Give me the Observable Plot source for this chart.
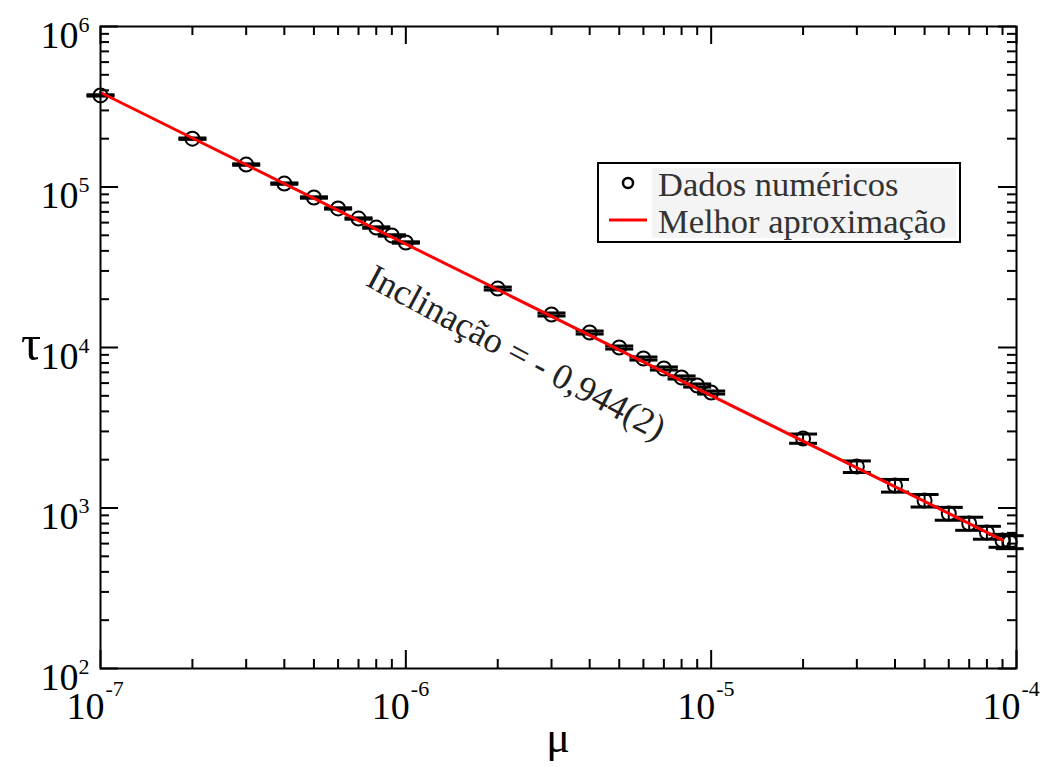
<!DOCTYPE html>
<html><head><meta charset="utf-8">
<script src="https://cdn.jsdelivr.net/npm/d3@7"></script>
<script src="https://cdn.jsdelivr.net/npm/@observablehq/plot@0.6"></script>
<style>
body{margin:0;background:#fff;}
#chart{width:1053px;height:767px;}
svg{display:block;}
</style></head><body><div id="chart"></div>
<script>
// ---- data ----
const mu = [1e-7,2e-7,3e-7,4e-7,5e-7,6e-7,7e-7,8e-7,9e-7,1e-6,
            2e-6,3e-6,4e-6,5e-6,6e-6,7e-6,8e-6,9e-6,1e-5,
            2e-5,3e-5,4e-5,5e-5,6e-5,7e-5,8e-5,9e-5,9.5e-5];
const tau = [372000,200000,138000,105000,86000,73500,63600,55900,49900,45100,
             23300,16060,12400,10000,8540,7400,6505,5797,5243,
             2710,1814,1381,1114,924,801,704,627,615];
const tauErr = [3500,2000,1400,1000,850,700,600,550,500,450,
                500,350,270,220,190,165,145,130,115,
                180,150,125,100,85,75,65,58,57];
const fitMu = [1e-7, 9e-5];
const fitTau = [388000, 631];
const xMajor = [1e-7,1e-6,1e-5,1e-4];
const xMajorExp = ["-7","-6","-5","-4"];
const xMinor = [2e-7,3e-7,4e-7,5e-7,6e-7,7e-7,8e-7,9e-7,
                2e-6,3e-6,4e-6,5e-6,6e-6,7e-6,8e-6,9e-6,
                2e-5,3e-5,4e-5,5e-5,6e-5,7e-5,8e-5,9e-5];
const yMajor = [1e2,1e3,1e4,1e5,1e6];
const yMajorExp = ["2","3","4","5","6"];
const yMinor = [2e2,3e2,4e2,5e2,6e2,7e2,8e2,9e2,
                2e3,3e3,4e3,5e3,6e3,7e3,8e3,9e3,
                2e4,3e4,4e4,5e4,6e4,7e4,8e4,9e4,
                2e5,3e5,4e5,5e5,6e5,7e5,8e5,9e5];
const slopeLabel = "Inclinação = - 0,944(2)";
const slopeLabelMu = [2.3e-6];
const slopeLabelTau = [9300];
const legendLabels = ["Dados numéricos", "Melhor aproximação"];
const xLabel = "μ";
const yLabel = "τ";

// ---- tables ----
const pts = mu.map((m, i) => ({mu: m, tau: tau[i], err: tauErr[i]}));
const fit = fitMu.map((m, i) => ({mu: m, tau: fitTau[i]}));
const ann = slopeLabelMu.map((m, i) => ({mu: m, tau: slopeLabelTau[i], text: slopeLabel}));

const W = 1053, H = 767;
const M = {top: 26, right: 37, bottom: 99, left: 100};
const iw = W - M.left - M.right, ih = H - M.top - M.bottom;
const MAJ = 18, MIN = 9;
const serif = "'Liberation Serif', 'Times New Roman', serif";

const capSymbol = {
  draw(ctx, size) {
    const r = Math.sqrt(size / Math.PI);
    ctx.moveTo(-r, 0); ctx.lineTo(r, 0);
  }
};

const plot = Plot.plot({
  width: W, height: H,
  marginTop: M.top, marginRight: M.right, marginBottom: M.bottom, marginLeft: M.left,
  style: {fontFamily: serif, background: "#fff"},
  x: {type: "log", domain: [1e-7, 1e-4], axis: null},
  y: {type: "log", domain: [1e2, 1e6], axis: null},
  marks: [
    // ticks (inside, mirrored)
    Plot.tickX(xMajor, {x: d => d, insetTop: ih - MAJ, stroke: "#000", strokeWidth: 2}),
    Plot.tickX(xMajor, {x: d => d, insetBottom: ih - MAJ, stroke: "#000", strokeWidth: 2}),
    Plot.tickX(xMinor, {x: d => d, insetTop: ih - MIN, stroke: "#000", strokeWidth: 2}),
    Plot.tickX(xMinor, {x: d => d, insetBottom: ih - MIN, stroke: "#000", strokeWidth: 2}),
    Plot.tickY(yMajor, {y: d => d, insetRight: iw - MAJ, stroke: "#000", strokeWidth: 2}),
    Plot.tickY(yMajor, {y: d => d, insetLeft: iw - MAJ, stroke: "#000", strokeWidth: 2}),
    Plot.tickY(yMinor, {y: d => d, insetRight: iw - MIN, stroke: "#000", strokeWidth: 2}),
    Plot.tickY(yMinor, {y: d => d, insetLeft: iw - MIN, stroke: "#000", strokeWidth: 2}),
    // error bars
    Plot.ruleX(pts, {x: "mu", y1: d => d.tau - d.err, y2: d => d.tau + d.err, stroke: "#000", strokeWidth: 2}),
    Plot.dot(pts, {x: "mu", y: d => d.tau - d.err, symbol: capSymbol, r: 14, fill: "none", stroke: "#000", strokeWidth: 3}),
    Plot.dot(pts, {x: "mu", y: d => d.tau + d.err, symbol: capSymbol, r: 14, fill: "none", stroke: "#000", strokeWidth: 3}),
    // data circles
    Plot.dot(pts, {x: "mu", y: "tau", r: 7, fill: "none", stroke: "#000", strokeWidth: 2}),
    // fit line
    Plot.line(fit, {x: "mu", y: "tau", stroke: "#ff0000", strokeWidth: 3}),
    // slope annotation
    Plot.text(ann, {x: "mu", y: "tau", text: "text", rotate: 28, fontSize: 36, fill: "#222", fontFamily: serif}),
    // frame
    Plot.frame({stroke: "#000", strokeWidth: 2}),
    // x tick labels
    Plot.text(xMajor, {x: d => d, frameAnchor: "bottom", text: () => "10", textAnchor: "end", lineAnchor: "bottom", dx: 4, dy: 50, fontSize: 38, fill: "#000"}),
    Plot.text(xMajor, {x: d => d, frameAnchor: "bottom", text: (d, i) => xMajorExp[i], textAnchor: "start", lineAnchor: "bottom", dx: 5, dy: 27, fontSize: 22, fill: "#000"}),
    // y tick labels
    Plot.text(yMajor, {y: d => d, frameAnchor: "left", text: () => "10", textAnchor: "end", lineAnchor: "bottom", dx: -22, dy: 21, fontSize: 38, fill: "#000"}),
    Plot.text(yMajor, {y: d => d, frameAnchor: "left", text: (d, i) => yMajorExp[i], textAnchor: "start", lineAnchor: "bottom", dx: -22, dy: 5, fontSize: 22, fill: "#000"})
  ]
});

document.getElementById("chart").appendChild(plot);

// axis titles and legend
const svg = d3.select(plot);
svg.append("text").attr("x", 558).attr("y", 752).attr("text-anchor", "middle")
  .attr("font-family", serif).attr("font-size", 44).attr("fill", "#000").text(xLabel);
svg.append("text").attr("x", 31).attr("y", 360).attr("text-anchor", "middle")
  .attr("font-family", serif).attr("font-size", 50).attr("fill", "#000").text(yLabel);

const lg = svg.append("g");
lg.append("rect").attr("x", 598).attr("y", 163).attr("width", 362).attr("height", 79)
  .attr("fill", "#fff").attr("stroke", "#000").attr("stroke-width", 2);
lg.append("rect").attr("x", 652).attr("y", 168).attr("width", 304).attr("height", 70).attr("fill", "#f4f4f4");
lg.append("circle").attr("cx", 628).attr("cy", 183).attr("r", 5)
  .attr("fill", "none").attr("stroke", "#000").attr("stroke-width", 2.5);
lg.append("line").attr("x1", 609).attr("x2", 647).attr("y1", 220).attr("y2", 220)
  .attr("stroke", "#ff0000").attr("stroke-width", 3);
legendLabels.forEach((t, i) => {
  lg.append("text").attr("x", 658).attr("y", 196 + i * 37).attr("text-anchor", "start")
    .attr("font-family", serif).attr("font-size", 34.5).attr("fill", "#333").text(t);
});
</script>
</body></html>
